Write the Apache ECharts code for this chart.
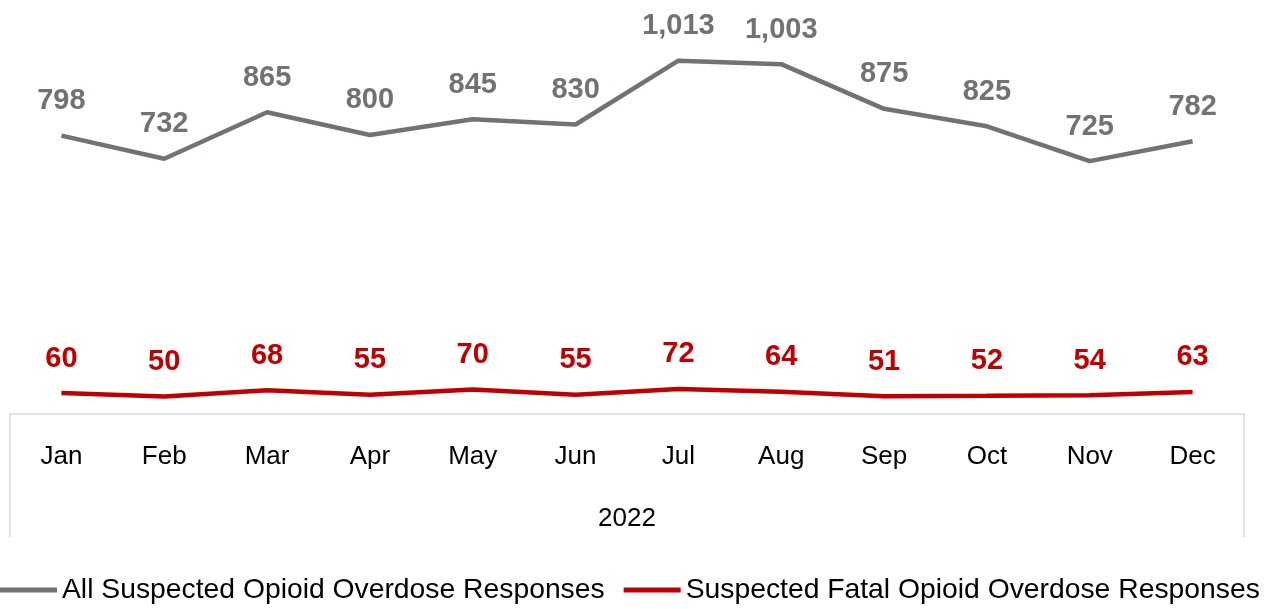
<!DOCTYPE html>
<html><head><meta charset="utf-8">
<script src="https://cdn.jsdelivr.net/npm/echarts@6/dist/echarts.min.js"></script>
<style>html,body{margin:0;padding:0;background:#fff}#c{width:1269px;height:609px}</style>
</head><body><div id="c"></div>
<script>
const months = ['Jan','Feb','Mar','Apr','May','Jun','Jul','Aug','Sep','Oct','Nov','Dec'];
const groupLabels = ['2022'];
const allResponses = [798,732,865,800,845,830,1013,1003,875,825,725,782];
const fatalResponses = [60,50,68,55,70,55,72,64,51,52,54,63];
const seriesNames = ['All Suspected Opioid Overdose Responses','Suspected Fatal Opioid Overdose Responses'];

const FONT = 'Liberation Sans';
const chart = echarts.init(document.getElementById('c'));
const lbl = (color) => ({
  show: true, position: 'top', distance: 20, color: color,
  fontFamily: FONT, fontWeight: 'bold', fontSize: 29,
  formatter: p => p.value.toLocaleString('en-US')
});
chart.setOption({
  animation: false,
  grid: {left: 10, right: 25, top: 0, bottom: 195},
  legend: {
    left: 0, top: 576, padding: 0, itemGap: 19, itemWidth: 57, itemHeight: 5, icon: 'rect',
    textStyle: {fontFamily: FONT, fontSize: 28.3, color: '#000'},
    data: seriesNames
  },
  xAxis: [{
    type: 'category', data: months, boundaryGap: true,
    axisLine: {lineStyle: {color: '#D9D9D9', width: 1.5}},
    axisTick: {show: false},
    axisLabel: {fontFamily: FONT, fontSize: 26, color: '#000', margin: 30}
  },{
    type: 'category', data: groupLabels, boundaryGap: true, position: 'bottom',
    axisLine: {show: false},
    axisTick: {show: true, length: 123, lineStyle: {color: '#D9D9D9', width: 1.5}},
    axisLabel: {fontFamily: FONT, fontSize: 26, color: '#000', margin: 92}
  }],
  yAxis: {type: 'value', min: 0, max: 1187, show: false, splitLine: {show: false}},
  series: [{
    name: seriesNames[0], type: 'line', data: allResponses, xAxisIndex: 0,
    symbol: 'circle', symbolSize: 0.1, showSymbol: true,
    lineStyle: {color: '#767171', width: 4.5}, itemStyle: {color: '#767171'},
    label: lbl('#767171')
  },{
    name: seriesNames[1], type: 'line', data: fatalResponses, xAxisIndex: 0,
    symbol: 'circle', symbolSize: 0.1, showSymbol: true,
    lineStyle: {color: '#C00000', width: 4.5}, itemStyle: {color: '#C00000'},
    label: lbl('#C00000')
  }]
});
</script></body></html>
